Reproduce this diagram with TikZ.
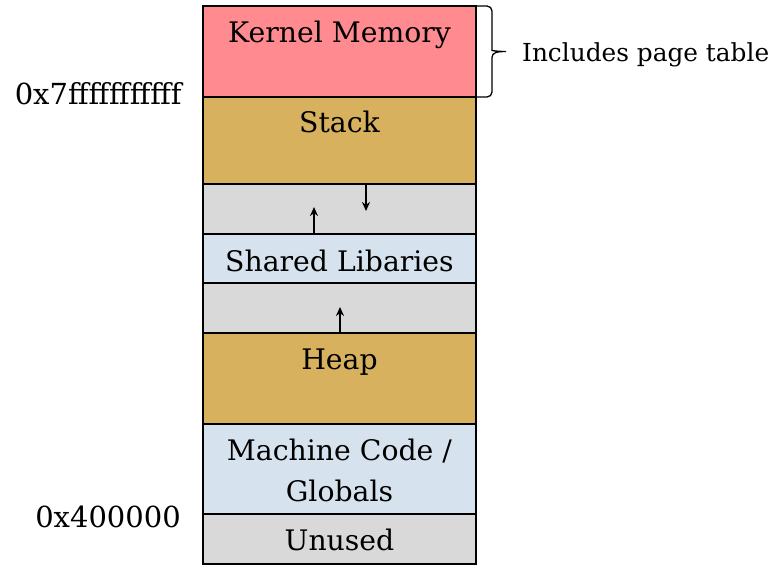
\documentclass[tikz,border=0pt]{standalone}
\usepackage{fontspec}
\setmainfont{DejaVu Serif}
\usetikzlibrary{arrows.meta,calc}
\definecolor{kern}{HTML}{FF8A8F}
\definecolor{gold}{HTML}{D7B15E}
\definecolor{gapg}{HTML}{D9D9D9}
\definecolor{lblue}{HTML}{D6E3EE}
\tikzset{
  seg/.style={draw=black, line width=1.4pt, minimum width=273pt, inner sep=0pt, outer sep=0pt},
  lbl/.style={font=\fontsize{28.3}{34}\selectfont, inner sep=0pt, anchor=base},
  addr/.style={font=\fontsize{29}{34}\selectfont, inner sep=0pt, anchor=base east},
  note/.style={font=\fontsize{24.8}{30}\selectfont, inner sep=0pt, anchor=base west},
  growarrow/.style={line width=2pt, -{Stealth[length=9pt,width=8pt]}},
  bracestyle/.style={line width=1.3pt}
}
\begin{document}
\begin{tikzpicture}[x=1pt,y=-1pt]
\useasboundingbox (0,0) rectangle (777,572);
\node[seg, fill=kern, minimum height=91pt, anchor=north west] (kern) at (203,6) {};
\node[seg, fill=gold, minimum height=87pt, anchor=north west] (stack) at (203,97) {};
\node[seg, fill=gapg, minimum height=50pt, anchor=north west] (gap1) at (203,184) {};
\node[seg, fill=lblue, minimum height=49pt, anchor=north west] (shared) at (203,234) {};
\node[seg, fill=gapg, minimum height=50pt, anchor=north west] (gap2) at (203,283) {};
\node[seg, fill=gold, minimum height=91pt, anchor=north west] (heap) at (203,333) {};
\node[seg, fill=lblue, minimum height=90pt, anchor=north west] (code) at (203,424) {};
\node[seg, fill=gapg, minimum height=50pt, anchor=north west] (unused) at (203,514) {};

\node[lbl] (tk) at ($(kern.north)+(0,37)$) {Kernel Memory};
\node[lbl] (ts) at ($(stack.north)+(0,36)$) {Stack};
\node[lbl] (tsh) at ($(shared.north)+(0,38)$) {Shared Libaries};
\node[lbl] (th) at ($(heap.north)+(0,37)$) {Heap};
\node[lbl] (tc1) at ($(code.north)+(0,36)$) {Machine Code /};
\node[lbl] (tc2) at ($(code.north)+(0,77)$) {Globals};
\node[lbl] (tu) at ($(unused.north)+(0,36)$) {Unused};

\coordinate (d1s) at (366,184);
\coordinate (d1e) at (366,211);
\coordinate (u1s) at (314,234);
\coordinate (u1e) at (314,207);
\coordinate (u2s) at (340,333);
\coordinate (u2e) at (340,307);
\draw[growarrow] (d1s) -- (d1e);
\draw[growarrow] (u1s) -- (u1e);
\draw[growarrow] (u2s) -- (u2e);

\coordinate (b1) at ($(kern.north east)+(16,0)$);
\coordinate (b2) at ($(kern.east)+(16,-6)$);
\coordinate (bt) at ($(kern.east)+(30,0)$);
\coordinate (b3) at ($(kern.east)+(16,6)$);
\coordinate (b4) at ($(kern.south east)+(16,0)$);
\draw[bracestyle] (kern.north east) [rounded corners=5pt] -- (b1) -- (b2) [sharp corners]
  .. controls ($(b2)+(0,5)$) and ($(bt)+(-9,0)$) .. (bt)
  .. controls ($(bt)+(-9,0)$) and ($(b3)+(0,-5)$) .. (b3) [rounded corners=5pt] -- (b4) -- (kern.south east);
\node[note] (inc) at (522,62) {Includes page table};

\node[addr] (addrhi) at (182,105) {0x7fffffffffff};
\node[addr] (addrlo) at (181,527) {0x400000};
\end{tikzpicture}
\end{document}
